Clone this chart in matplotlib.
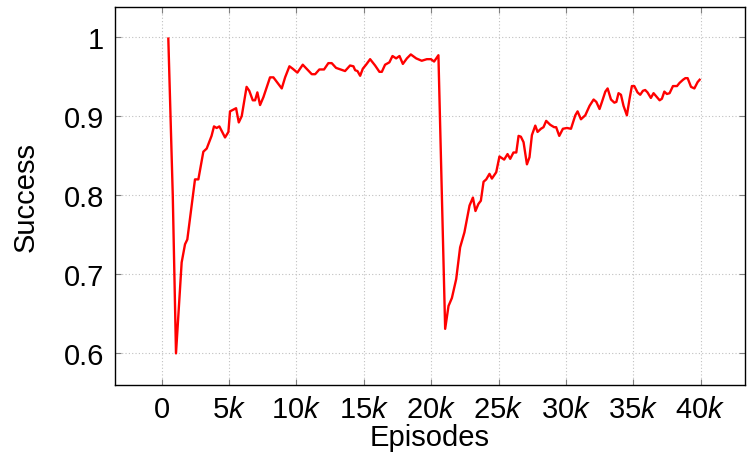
import matplotlib
matplotlib.use('Agg')
import matplotlib.pyplot as plt

plt.rcParams['font.family'] = 'Liberation Sans'
plt.rcParams['mathtext.fontset'] = 'custom'
plt.rcParams['mathtext.rm'] = 'Liberation Sans'
plt.rcParams['mathtext.it'] = 'Liberation Sans:italic'
plt.rcParams['font.size'] = 21

# episodes (thousands) and success rate
episodes = [0.49, 0.82, 1.06, 1.48, 1.73, 1.9, 2.47, 2.72, 3.09, 3.34, 3.7, 3.88,
            4.08, 4.28, 4.7, 4.95, 5.07, 5.52, 5.72, 5.94, 6.3, 6.5, 6.76, 6.93,
            7.1, 7.3, 7.55, 8.04, 8.29, 8.91, 9.16, 9.48, 9.72, 10.07, 10.47,
            11.14, 11.39, 11.7, 12.05, 12.37, 12.62, 12.94, 13.61, 13.98, 14.23,
            14.36, 14.53, 14.73, 14.93, 15.17, 15.47, 15.84, 16.16, 16.34, 16.58,
            16.9, 17.13, 17.4, 17.65, 17.9, 18.2, 18.49, 18.89, 19.3, 19.68,
            19.98, 20.22, 20.54, 21.04, 21.29, 21.54, 21.86, 22.15, 22.47, 22.85,
            23.1, 23.29, 23.51, 23.69, 23.89, 24.09, 24.33, 24.51, 24.83, 25.07,
            25.42, 25.67, 25.87, 26.11, 26.32, 26.49, 26.66, 26.86, 27.11, 27.3,
            27.48, 27.73, 27.9, 28.15, 28.34, 28.54, 28.84, 29.13, 29.28, 29.51,
            29.78, 30.08, 30.38, 30.7, 30.87, 31.12, 31.44, 31.76, 32.06, 32.26,
            32.5, 32.68, 32.93, 33.1, 33.35, 33.6, 33.75, 33.91, 34.09, 34.28,
            34.53, 34.73, 34.9, 35.08, 35.32, 35.52, 35.72, 35.89, 36.06, 36.31,
            36.51, 36.71, 36.96, 37.13, 37.31, 37.5, 37.7, 37.95, 38.25, 38.44,
            38.7, 38.87, 39.04, 39.29, 39.54, 39.78, 39.93]
success = [0.998, 0.80, 0.60, 0.715, 0.738, 0.744, 0.82, 0.82, 0.855, 0.859, 0.875, 0.887,
           0.885, 0.887, 0.873, 0.88, 0.906, 0.91, 0.892, 0.90, 0.937, 0.932, 0.92, 0.92,
           0.93, 0.914, 0.924, 0.949, 0.949, 0.935, 0.949, 0.963, 0.96, 0.955, 0.965,
           0.953, 0.953, 0.959, 0.959, 0.967, 0.967, 0.961, 0.957, 0.964, 0.963,
           0.958, 0.957, 0.951, 0.96, 0.965, 0.972, 0.964, 0.956, 0.956, 0.965,
           0.968, 0.976, 0.973, 0.976, 0.966, 0.973, 0.978, 0.973, 0.970, 0.972,
           0.972, 0.969, 0.977, 0.631, 0.66, 0.670, 0.694, 0.734, 0.753, 0.787,
           0.797, 0.78, 0.789, 0.793, 0.817, 0.82, 0.827, 0.821, 0.829, 0.849,
           0.845, 0.852, 0.846, 0.854, 0.854, 0.875, 0.874, 0.867, 0.839, 0.848,
           0.876, 0.888, 0.880, 0.884, 0.886, 0.894, 0.889, 0.886, 0.886, 0.875,
           0.884, 0.885, 0.884, 0.901, 0.906, 0.896, 0.901, 0.913, 0.921, 0.918,
           0.909, 0.918, 0.931, 0.935, 0.921, 0.917, 0.918, 0.929, 0.927, 0.913,
           0.901, 0.922, 0.938, 0.938, 0.930, 0.927, 0.932, 0.933, 0.930, 0.923,
           0.929, 0.925, 0.920, 0.922, 0.931, 0.928, 0.929, 0.938, 0.938, 0.942,
           0.946, 0.948, 0.948, 0.937, 0.935, 0.943, 0.946]

x_ticks = [0, 5, 10, 15, 20, 25, 30, 35, 40]
x_tick_labels = ['0', '5$k$', '10$k$', '15$k$', '20$k$', '25$k$', '30$k$', '35$k$', '40$k$']
y_ticks = [0.6, 0.7, 0.8, 0.9, 1.0]
y_tick_labels = ['0.6', '0.7', '0.8', '0.9', '1']

fig = plt.figure(figsize=(7.49, 4.56), dpi=100)
ax = fig.add_axes([0.1535, 0.1535, 0.8412, 0.829])
ax.plot([e * 1000 for e in episodes], success, color='#ff0000', linewidth=1.7)

ax.set_xlim(-3470, 43300)
ax.set_ylim(0.56, 1.038)
ax.set_xticks([t * 1000 for t in x_ticks])
ax.set_xticklabels(x_tick_labels)
ax.set_yticks(y_ticks)
ax.set_yticklabels(y_tick_labels)

ax.grid(True, linestyle=(0, (1, 2)), color='#c0c0c0', linewidth=0.8)
ax.tick_params(direction='in', length=4, width=0.8, color='#808080',
               top=True, right=True)
ax.tick_params(axis='x', pad=7)
ax.tick_params(axis='y', pad=8)
for s in ax.spines.values():
    s.set_linewidth(1.0)

ax.set_xlabel('Episodes', labelpad=0)
ax.set_ylabel('Success', labelpad=17)

fig.savefig('out.png', dpi=100)
